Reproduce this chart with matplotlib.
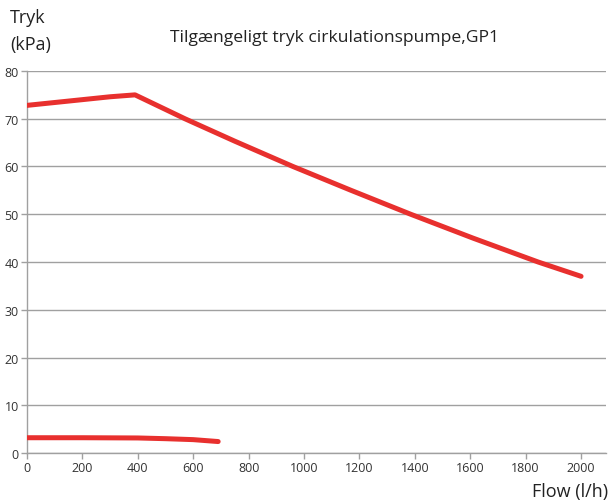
import matplotlib
matplotlib.use("Agg")
import matplotlib.pyplot as plt

# Pump curve data (flow in l/h, available pressure in kPa)
flow_upper = [0, 100, 200, 300, 390, 570, 750, 960, 1170, 1385, 1610, 1845, 2000]
pressure_upper = [72.8, 73.4, 74.0, 74.6, 75.0, 70.0, 65.3, 60.0, 55.0, 50.0, 45.0, 40.0, 37.0]

flow_lower = [0, 200, 400, 500, 600, 690]
pressure_lower = [3.2, 3.2, 3.15, 3.0, 2.8, 2.4]

x_ticks = [0, 200, 400, 600, 800, 1000, 1200, 1400, 1600, 1800, 2000]
y_ticks = [0, 10, 20, 30, 40, 50, 60, 70, 80]

plt.rcParams['font.family'] = ['Open Sans', 'DejaVu Sans']

fig = plt.figure(figsize=(6.11, 5.02), dpi=100)
ax = fig.add_axes([0.0442, 0.0956, 0.9476, 0.761])

red = '#e8302e'
grid_c = '#a0a0a0'

ax.plot(flow_upper, pressure_upper, color=red, lw=3.6, solid_capstyle='round', solid_joinstyle='round', zorder=3)
ax.plot(flow_lower, pressure_lower, color=red, lw=3.6, solid_capstyle='round', zorder=3)

ax.set_xlim(0, 2090)
ax.set_ylim(0, 80)
ax.set_xticks(x_ticks)
ax.set_yticks(y_ticks)
ax.yaxis.grid(True, color=grid_c, lw=1.0)
ax.set_axisbelow(True)

for s in ['top', 'right']:
    ax.spines[s].set_visible(False)
for s in ['left', 'bottom']:
    ax.spines[s].set_color(grid_c)
    ax.spines[s].set_linewidth(1.0)

ax.tick_params(axis='both', colors=grid_c, labelcolor='#333333', labelsize=9, length=4, width=1.0, pad=2)

fig.text(10 / 611, 1 - 18 / 502, 'Tryk', fontsize=13, color='#222222', ha='left', va='center')
fig.text(10 / 611, 1 - 45 / 502, '(kPa)', fontsize=13, color='#222222', ha='left', va='center')
fig.text(335 / 611, 1 - 38 / 502, 'Tilgængeligt tryk cirkulationspumpe,GP1', fontsize=12.6, color='#222222', ha='center', va='center')
fig.text(608 / 611, 1 - 492 / 502, 'Flow (l/h)', fontsize=13, color='#222222', ha='right', va='center')

fig.savefig('out.png', dpi=100)
